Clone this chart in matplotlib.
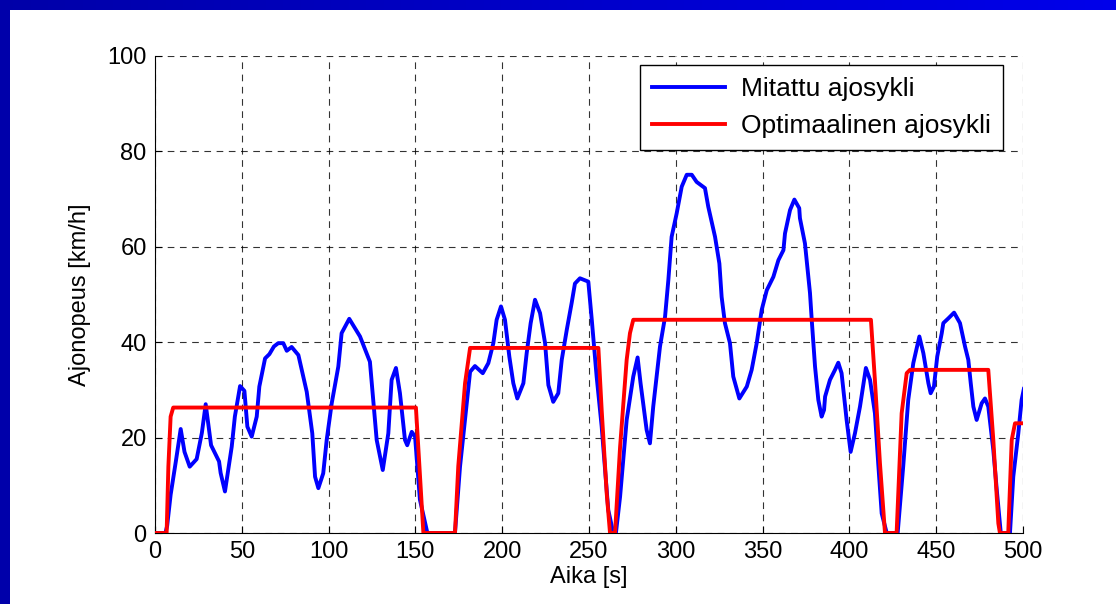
import numpy as np
import matplotlib.pyplot as plt

# Mitattu ajosykli (luettu kuvasta)
t_mit = [0, 6, 7, 9, 12, 14.8, 17, 20, 24, 27, 29.2, 32.3, 36.9, 37.8, 40.3, 44.2, 46, 49,
         51.5, 53.2, 55.7, 58.6, 60.1, 63.4, 65.9, 68.5, 71, 73.9, 75.9, 78.7, 82.6, 87.4,
         90.6, 92.2, 94.1, 96.9, 98.9, 101.8, 105.6, 107.5, 111.9, 118.1, 123.8, 127.7,
         131.2, 134.4, 136.3, 138.8, 141.1, 144, 145.3, 147.9, 149.8, 152.6, 156.9, 172.8,
         175.7, 181.5, 184.3, 188.8, 192, 194.9, 196.8, 199.3, 201.6, 204.1, 206.4, 208.7,
         212.2, 214.1, 216.4, 218.9, 221.8, 224.7, 226.6, 229.4, 232.3, 234.3, 237.2, 240,
         241.9, 244.8, 249.6, 251.6, 254.4, 257.3, 261.1, 264, 265.5, 267.9, 271.7, 275.5,
         278, 279.7, 283.2, 285.1, 287, 290.9, 293.8, 295.7, 297.6, 300.5, 303.4, 306.3,
         309.2, 312, 316.8, 318.7, 322.6, 325.1, 326.4, 328.3, 331.2, 333.1, 336.6, 340.9,
         343.7, 346.6, 349.5, 352.4, 356.2, 359.1, 362, 362.9, 365.8, 368.3, 371.1, 371.5,
         374.4, 377.3, 378.3, 380.2, 382.1, 384, 385.4, 386, 388.8, 391.7, 393.6, 395.5,
         398.4, 400.7, 403.2, 406.1, 409.5, 411.9, 414.7, 416.6, 418.6, 421.5, 427.8, 431,
         433.9, 436.8, 440.3, 442.6, 445.5, 446.8, 448.7, 450.6, 453.2, 454.1, 457, 460.3,
         463.7, 466.6, 468.5, 469.9, 471.4, 473.3, 476.2, 478.1, 480, 482.9, 484.9, 487.2,
         492.5, 494.4, 497.3, 499.2, 500.5]
v_mit = [0, 0, 1.5, 8, 15, 21.8, 17, 13.9, 15.5, 21, 27, 18.4, 15, 12.6, 8.7, 18.1, 24.4, 30.8,
         29.8, 22.3, 20.2, 24.4, 30.7, 36.6, 37.5, 39.1, 39.8, 39.8, 38.2, 39, 37.3, 29.6,
         20.9, 11.8, 9.4, 12.5, 19.5, 27.2, 34.9, 41.9, 44.9, 41.2, 35.9, 19.5, 13.2, 20.9,
         32.1, 34.6, 29.3, 19.5, 18.4, 21.2, 20.2, 7, 0, 0, 13.9, 33.8, 35, 33.5, 35.6, 39.8,
         44.7, 47.5, 44.7, 37, 31.4, 28.2, 31.4, 37.7, 44, 48.9, 46.1, 39.8, 31, 27.5, 29.3,
         36.3, 42.6, 48.2, 52.3, 53.4, 52.7, 44.7, 32.8, 22.3, 4.8, 0, 0, 7.6, 23.7, 32.8,
         36.8, 31.4, 21.6, 18.8, 26.5, 39.1, 45.3, 53, 62.1, 67, 72.6, 75.1, 75.1, 73.6,
         72.3, 68.4, 62.1, 56.5, 49.5, 44, 39.8, 32.8, 28.2, 30.7, 34.2, 39.8, 46.8, 50.9,
         53.7, 57.2, 59.3, 62.8, 67.7, 69.9, 68.1, 66, 60.7, 50.3, 44.7, 34.9, 27.9, 24.4,
         25.8, 28.6, 32.1, 34.2, 35.7, 33.5, 23.7, 17, 20.9, 26.5, 34.6, 32.1, 25.1, 14.6,
         4.1, 0, 0, 14, 27.9, 35.6, 41.2, 37.7, 31.4, 29.3, 30.7, 37, 41.9, 44, 45, 46.2,
         44, 39.1, 36.3, 31.4, 26.5, 23.7, 27.2, 28.2, 26.5, 17.4, 9, 0, 0, 11.8, 20.9, 27.9,
         30.2]

# Optimaalinen ajosykli
t_opt = [0, 6.7, 7.7, 9, 10.5, 150.3, 154.6, 172.8, 174.7, 178.6, 181.5, 255.4, 257.3, 260.2,
         262.1, 265, 267.9, 271.7, 273.6, 275.5, 412.4, 414.7, 417.6, 420.5, 427.2, 430.1,
         433, 434.9, 480, 482.9, 485.8, 486.7, 491.5, 493.5, 495.4, 500]
v_opt = [0, 0, 13.9, 24.4, 26.3, 26.3, 0, 0, 14, 31.4, 38.8, 38.8, 25.8, 8.3, 0, 0, 18, 36.3,
         41.9, 44.7, 44.7, 32, 14.6, 0, 0, 25.1, 33.5, 34.2, 34.2, 19.5, 2, 0, 0, 19.5, 23,
         23]

plt.rcParams['font.family'] = ['Liberation Sans', 'DejaVu Sans']

fig = plt.figure(figsize=(11.16, 6.04), dpi=100)

# sininen kehys ylhaalla ja vasemmalla
top = fig.add_axes([0, 1 - 10 / 604, 1, 10 / 604])
grad = np.linspace(0, 1, 256).reshape(1, -1)
top.imshow(np.dstack([np.zeros_like(grad), np.zeros_like(grad), 0.66 + 0.26 * grad]),
           aspect='auto', extent=[0, 1, 0, 1])
top.axis('off')
left = fig.add_axes([0, 0, 10 / 1116, 1])
left.set_facecolor('#0000aa')
left.set_xticks([])
left.set_yticks([])
for s in left.spines.values():
    s.set_visible(False)

ax = fig.add_axes([155 / 1116, 1 - 533 / 604, 868 / 1116, 477 / 604])
ax.plot(t_mit, v_mit, color='#0000ff', lw=2.8, label='Mitattu ajosykli', zorder=3,
        solid_joinstyle='round')
ax.plot(t_opt, v_opt, color='#ff0000', lw=2.8, label='Optimaalinen ajosykli', zorder=4,
        solid_joinstyle='round')

ax.set_xlim(0, 500)
ax.set_ylim(0, 100)
ax.set_xticks(np.arange(0, 501, 50))
ax.set_yticks(np.arange(0, 101, 20))
ax.grid(True, color='black', linestyle=(0, (6, 5)), linewidth=0.8, alpha=0.8)
ax.set_axisbelow(True)
ax.spines['top'].set_visible(False)
ax.spines['right'].set_visible(False)
ax.tick_params(direction='in', length=5, labelsize=17, pad=6)
ax.set_xlabel('Aika [s]', fontsize=17, labelpad=2)
ax.set_ylabel('Ajonopeus [km/h]', fontsize=17, labelpad=12)

leg = ax.legend(loc='upper right', bbox_to_anchor=(1003 / 1116, 1 - 65 / 604),
                bbox_transform=fig.transFigure, fontsize=19, handlelength=2.8,
                fancybox=False, edgecolor='black', framealpha=1, borderpad=0.45,
                labelspacing=0.5, handletextpad=0.6, borderaxespad=0)
leg.get_frame().set_linewidth(1.0)

fig.savefig('out.png', dpi=100)
